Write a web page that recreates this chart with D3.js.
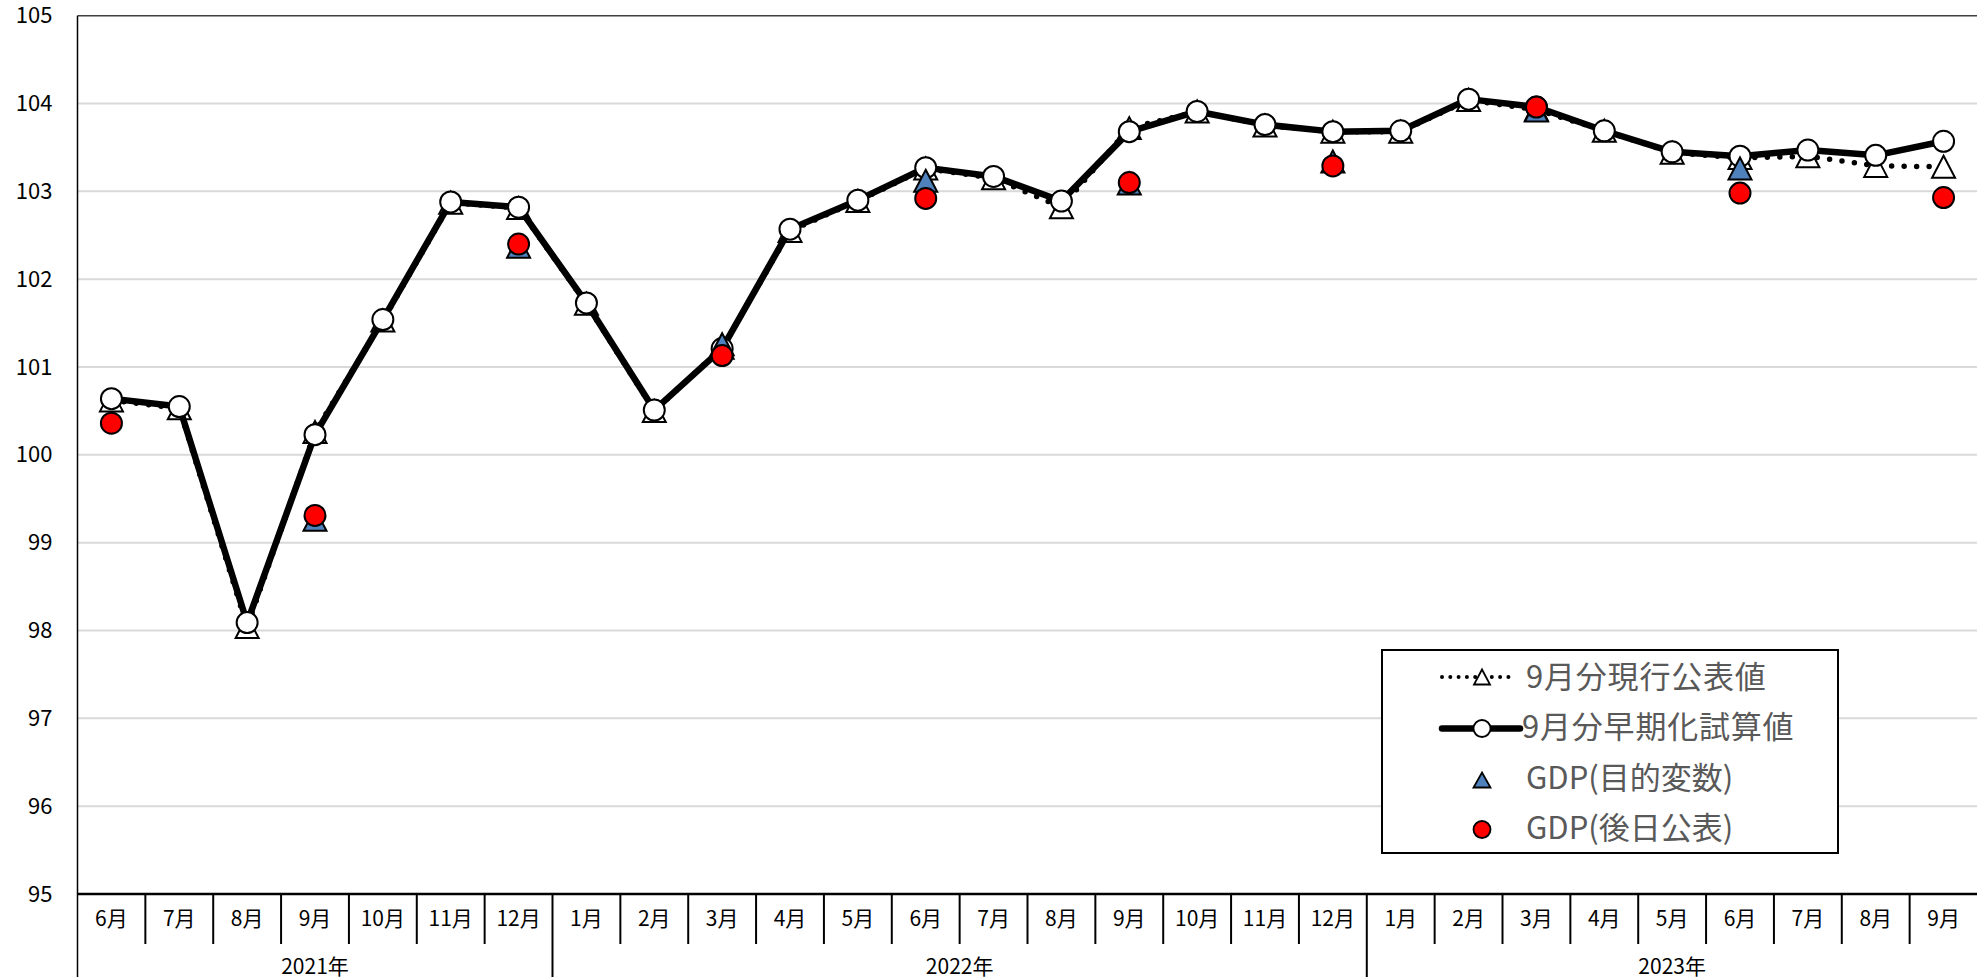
<!DOCTYPE html>
<html>
<head>
<meta charset="utf-8">
<script src="https://cdn.jsdelivr.net/npm/d3@7"></script>
<style>
  body { margin: 0; background: #fff; }
  text { font-family: "Noto Sans CJK JP", "Noto Sans", sans-serif; }
</style>
</head>
<body>
<svg id="chart"></svg>
<script>
// months shown on the x axis (year-month)
const categories = [
  "2021-06", "2021-07", "2021-08", "2021-09", "2021-10", "2021-11", "2021-12",
  "2022-01", "2022-02", "2022-03", "2022-04", "2022-05", "2022-06",
  "2022-07", "2022-08", "2022-09", "2022-10", "2022-11", "2022-12",
  "2023-01", "2023-02", "2023-03", "2023-04", "2023-05", "2023-06",
  "2023-07", "2023-08", "2023-09"
];

// 9月分現行公表値 (dotted, triangles)
const currentValues = [
  100.62, 100.53, 98.04, 100.26, 101.53, 102.87, 102.81,
  101.72, 100.50, 101.22, 102.55, 102.89, 103.26,
  103.15, 102.82, 103.72, 103.91, 103.75, 103.68,
  103.68, 104.04, 103.93, 103.69, 103.44, 103.38,
  103.40, 103.29, 103.28
];

// 9月分早期化試算値 (solid, circles)
const earlyValues = [
  100.64, 100.55, 98.09, 100.23, 101.54, 102.88, 102.82,
  101.73, 100.51, 101.21, 102.57, 102.90, 103.27,
  103.17, 102.89, 103.68, 103.91, 103.76, 103.68,
  103.69, 104.05, 103.96, 103.69, 103.45, 103.40,
  103.47, 103.41, 103.57
];

// GDP(目的変数)
const gdpTarget = [
  null, null, null, 99.26, null, null, 102.37,
  null, null, 101.26, null, null, 103.12,
  null, null, 103.09, null, null, 103.34,
  null, null, 103.92, null, null, 103.26,
  null, null, null
];

// GDP(後日公表)
const gdpLater = [
  100.36, null, null, 99.31, null, null, 102.40,
  null, null, 101.13, null, null, 102.92,
  null, null, 103.10, null, null, 103.29,
  null, null, 103.96, null, null, 102.98,
  null, null, 102.93
];

const yTicks = [95, 96, 97, 98, 99, 100, 101, 102, 103, 104, 105];
const seriesNames = ["9月分現行公表値", "9月分早期化試算値", "GDP(目的変数)", "GDP(後日公表)"];

const CHART_SIZE = { width: 1977, height: 977 };
const MARGIN = { left: 77.5, right: -0.5, top: 15.7, bottom: 83 };
const WIDTH = CHART_SIZE.width - (MARGIN.left + MARGIN.right);
const HEIGHT = CHART_SIZE.height - (MARGIN.top + MARGIN.bottom);

const trianglePath = (w, h) => `M0,${-h / 2}L${w / 2},${h / 2}L${-w / 2},${h / 2}Z`;

const svg = d3.select("#chart")
  .attr("width", CHART_SIZE.width)
  .attr("height", CHART_SIZE.height);

const g = svg.append("g")
  .attr("transform", `translate(${MARGIN.left},${MARGIN.top})`);

const x = d3.scaleBand().domain(categories).range([0, WIDTH]);
const y = d3.scaleLinear().domain([95, 105]).range([HEIGHT, 0]);
const cx = c => x(c) + x.bandwidth() / 2;

// gridlines
g.append("g")
  .selectAll("line")
  .data(yTicks.filter(t => t > 95 && t < 105))
  .join("line")
  .attr("x1", 0).attr("x2", WIDTH)
  .attr("y1", d => y(d)).attr("y2", d => y(d))
  .attr("stroke", "#d9d9d9").attr("stroke-width", 2);

// top border
g.append("line")
  .attr("x1", 0).attr("x2", WIDTH)
  .attr("y1", 0).attr("y2", 0)
  .attr("stroke", "#404040").attr("stroke-width", 1.5);

// y axis
const yAxis = d3.axisLeft(y).tickValues(yTicks).tickSize(0).tickPadding(25);
g.append("g").call(yAxis)
  .call(s => s.select(".domain").remove())
  .selectAll("text")
  .attr("font-size", 22).attr("fill", "#000")
  .attr("font-family", "'Noto Sans CJK JP', sans-serif");

// left axis line (runs through the label area)
g.append("line")
  .attr("x1", 0).attr("x2", 0)
  .attr("y1", 0).attr("y2", HEIGHT + MARGIN.bottom)
  .attr("stroke", "#000").attr("stroke-width", 1.5);

// x axis: months
const xg = g.append("g").attr("transform", `translate(0,${HEIGHT})`);
xg.append("line")
  .attr("x1", 0).attr("x2", WIDTH)
  .attr("stroke", "#000").attr("stroke-width", 2.5);

const monthLabel = c => `${+c.split("-")[1]}月`;
xg.selectAll(".month")
  .data(categories)
  .join("text")
  .attr("class", "month")
  .attr("x", cx)
  .attr("y", 23)
  .attr("text-anchor", "middle")
  .attr("dominant-baseline", "central")
  .attr("font-size", 21)
  .text(monthLabel);

const isYearStart = (c, i) => i > 0 && c.split("-")[0] !== categories[i - 1].split("-")[0];
xg.selectAll(".divider")
  .data(categories.slice(1))
  .join("line")
  .attr("x1", c => x(c)).attr("x2", c => x(c))
  .attr("y1", 0)
  .attr("y2", (c, i) => isYearStart(c, i + 1) ? MARGIN.bottom : 50)
  .attr("stroke", "#000").attr("stroke-width", 2);

const years = d3.groups(categories, c => c.split("-")[0]);
xg.selectAll(".year")
  .data(years)
  .join("text")
  .attr("class", "year")
  .attr("x", ([, cs]) => (x(cs[0]) + x(cs[cs.length - 1]) + x.bandwidth()) / 2)
  .attr("y", 71)
  .attr("text-anchor", "middle")
  .attr("dominant-baseline", "central")
  .attr("font-size", 21)
  .text(([yr]) => `${yr}年`);

// series 1: current values, dotted line + white triangles
const line = d3.line()
  .defined(d => d.v != null)
  .x(d => cx(d.c))
  .y(d => y(d.v));

const toPoints = vals => categories.map((c, i) => ({ c, v: vals[i] })).filter(d => d.v != null);

g.append("path")
  .attr("d", line(toPoints(currentValues)))
  .attr("fill", "none")
  .attr("stroke", "#000")
  .attr("stroke-width", 5.5)
  .attr("stroke-linecap", "round")
  .attr("stroke-dasharray", "0 12.5");

g.append("g").selectAll("path")
  .data(toPoints(currentValues))
  .join("path")
  .attr("transform", d => `translate(${cx(d.c)},${y(d.v)})`)
  .attr("d", trianglePath(23, 22))
  .attr("fill", "#fff").attr("stroke", "#000").attr("stroke-width", 2);

// series 2: early estimate, solid line + white circles
g.append("path")
  .attr("d", line(toPoints(earlyValues)))
  .attr("fill", "none")
  .attr("stroke", "#000")
  .attr("stroke-width", 6.5)
  .attr("stroke-linejoin", "round");

g.append("g").selectAll("circle")
  .data(toPoints(earlyValues))
  .join("circle")
  .attr("cx", d => cx(d.c)).attr("cy", d => y(d.v))
  .attr("r", 10.5)
  .attr("fill", "#fff").attr("stroke", "#000").attr("stroke-width", 2);

// series 3: GDP target, blue triangles
g.append("g").selectAll("path")
  .data(toPoints(gdpTarget))
  .join("path")
  .attr("transform", d => `translate(${cx(d.c)},${y(d.v)})`)
  .attr("d", trianglePath(23, 22))
  .attr("fill", "#4f81bd").attr("stroke", "#000").attr("stroke-width", 2);

// series 4: GDP later release, red circles
g.append("g").selectAll("circle")
  .data(toPoints(gdpLater))
  .join("circle")
  .attr("cx", d => cx(d.c)).attr("cy", d => y(d.v))
  .attr("r", 10.5)
  .attr("fill", "#ff0000").attr("stroke", "#000").attr("stroke-width", 2);

// legend
const legend = svg.append("g").attr("transform", "translate(1382,650)");
legend.append("rect")
  .attr("width", 456).attr("height", 203)
  .attr("fill", "#fff").attr("stroke", "#000").attr("stroke-width", 2);

const rowY = i => 24 + i * 50.5;
const symX = 100;

legend.append("line")
  .attr("x1", 60).attr("x2", 132)
  .attr("y1", rowY(0) + 3).attr("y2", rowY(0) + 3)
  .attr("stroke", "#000").attr("stroke-width", 4)
  .attr("stroke-linecap", "round").attr("stroke-dasharray", "0 8.3");
legend.append("path")
  .attr("transform", `translate(${symX},${rowY(0) + 3})`)
  .attr("d", trianglePath(16, 15))
  .attr("fill", "#fff").attr("stroke", "#000").attr("stroke-width", 1.8);

legend.append("line")
  .attr("x1", 60).attr("x2", 138)
  .attr("y1", rowY(1) + 4).attr("y2", rowY(1) + 4)
  .attr("stroke", "#000").attr("stroke-width", 6.5).attr("stroke-linecap", "round");
legend.append("circle")
  .attr("cx", symX).attr("cy", rowY(1) + 4).attr("r", 8.5)
  .attr("fill", "#fff").attr("stroke", "#000").attr("stroke-width", 1.8);

legend.append("path")
  .attr("transform", `translate(${symX},${rowY(2) + 5})`)
  .attr("d", trianglePath(17, 15))
  .attr("fill", "#4f81bd").attr("stroke", "#000").attr("stroke-width", 1.8);

legend.append("circle")
  .attr("cx", symX).attr("cy", rowY(3) + 4).attr("r", 8.5)
  .attr("fill", "#ff0000").attr("stroke", "#000").attr("stroke-width", 1.8);

legend.selectAll(".label")
  .data(seriesNames)
  .join("text")
  .attr("class", "label")
  .attr("x", (d, i) => i === 1 ? 140 : 144)
  .attr("y", (d, i) => rowY(i))
  .attr("dominant-baseline", "central")
  .attr("font-size", 31)
  .attr("letter-spacing", (d, i) => i < 2 ? 0.8 : 0)
  .attr("fill", "#595959")
  .text(d => d);
</script>
</body>
</html>
